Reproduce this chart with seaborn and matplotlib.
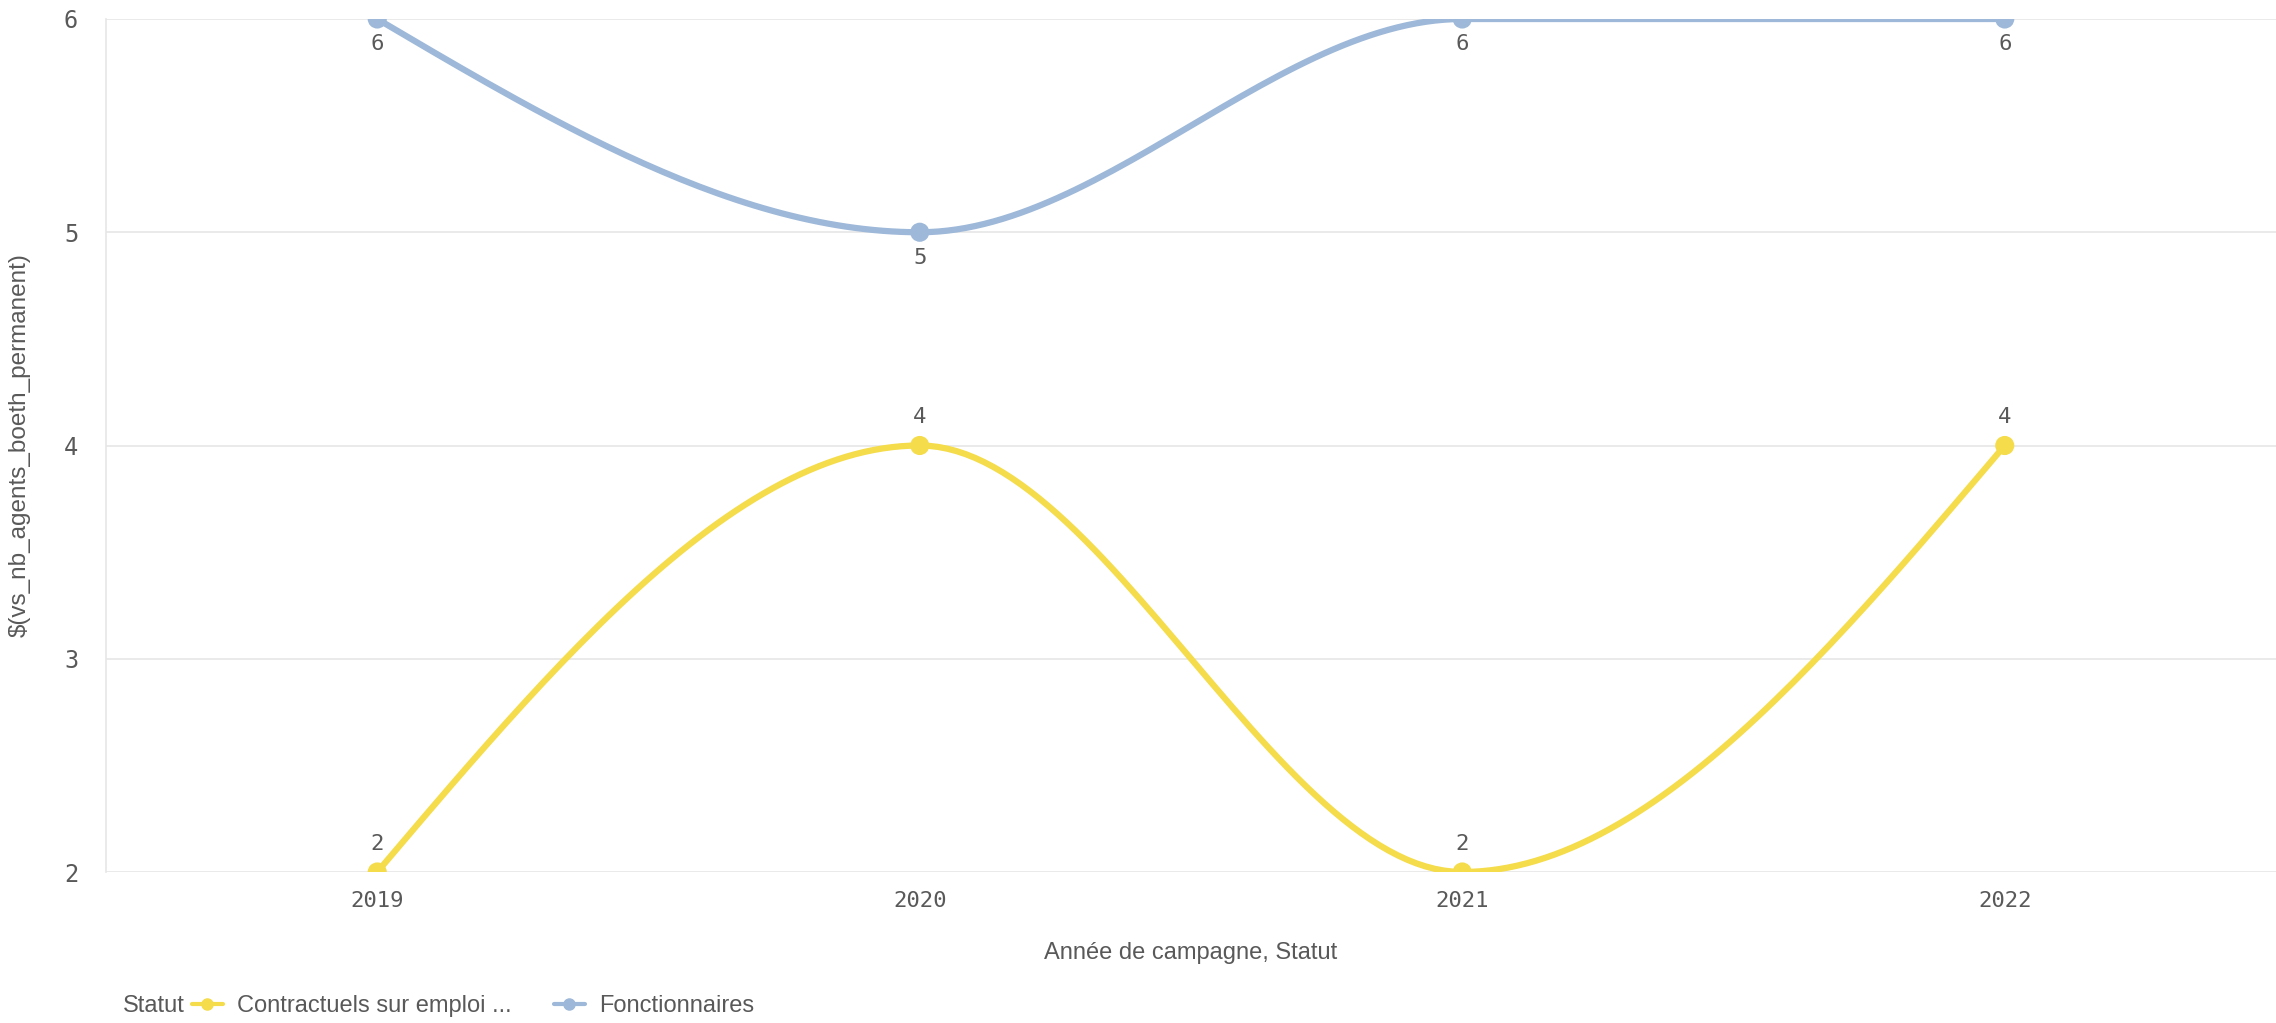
import numpy as np
import pandas as pd
import matplotlib
matplotlib.use("Agg")
import matplotlib.pyplot as plt
import seaborn as sns
from matplotlib.lines import Line2D

# ---- data ----
years = ["2019", "2020", "2021", "2022"]
contractuels = [2, 4, 2, 4]
fonctionnaires = [6, 5, 6, 6]
series_names = ["Contractuels sur emploi ...", "Fonctionnaires"]
y_ticks = [2, 3, 4, 5, 6]

YELLOW = "#F4DC4B"
BLUE = "#9DB8D8"
GRID = "#E6E6E6"
TXT = "#595959"


def monotone_curve(x, y, n=60):
    """d3 curveMonotoneX style smoothing (rendering only)."""
    x = np.asarray(x, float)
    y = np.asarray(y, float)
    h = np.diff(x)
    s = np.diff(y) / h
    t = np.zeros_like(y)
    for i in range(1, len(y) - 1):
        s0, s1 = s[i - 1], s[i]
        p = (s0 * h[i] + s1 * h[i - 1]) / (h[i - 1] + h[i])
        t[i] = (np.sign(s0) + np.sign(s1)) * min(abs(s0), abs(s1), 0.5 * abs(p))
    t[0] = (3 * s[0] - t[1]) / 2
    t[-1] = (3 * s[-1] - t[-2]) / 2
    xs, ys = [], []
    for i in range(len(h)):
        u = np.linspace(0, 1, n)
        h00 = 2 * u**3 - 3 * u**2 + 1
        h10 = u**3 - 2 * u**2 + u
        h01 = -2 * u**3 + 3 * u**2
        h11 = u**3 - u**2
        xs.append(x[i] + u * h[i])
        ys.append(h00 * y[i] + h10 * h[i] * t[i] + h01 * y[i + 1] + h11 * h[i] * t[i + 1])
    return np.concatenate(xs), np.concatenate(ys)


sns.set_theme(style="white")
plt.rcParams["font.family"] = ["DejaVu Sans"]
SANS = ["Liberation Sans Narrow", "Liberation Sans"]

fig = plt.figure(figsize=(22.76, 10.23), dpi=100)
ax = fig.add_axes([106 / 2276, 1 - 872 / 1023, 1 - 106 / 2276, (872 - 19) / 1023])

xpos = np.arange(len(years))
df = pd.DataFrame({
    "x": np.concatenate([xpos, xpos]),
    "val": contractuels + fonctionnaires,
    "Statut": [series_names[0]] * len(years) + [series_names[1]] * len(years),
})

for name, vals, col in [(series_names[0], contractuels, YELLOW), (series_names[1], fonctionnaires, BLUE)]:
    cx, cy = monotone_curve(xpos, vals)
    ax.plot(cx, cy, color=col, lw=4.5, solid_capstyle="round", zorder=3)

sns.scatterplot(data=df, x="x", y="val", hue="Statut", palette=[YELLOW, BLUE],
                s=190, edgecolor="none", legend=False, ax=ax, zorder=4)

# value labels
for i, v in enumerate(contractuels):
    ax.annotate(str(v), (i, v), xytext=(0, 13), textcoords="offset points",
                ha="center", va="bottom", fontsize=16, color=TXT,
                family="DejaVu Sans Mono", annotation_clip=False)
for i, v in enumerate(fonctionnaires):
    ax.annotate(str(v), (i, v), xytext=(0, -11), textcoords="offset points",
                ha="center", va="top", fontsize=16, color=TXT,
                family="DejaVu Sans Mono", annotation_clip=False)

ax.set_xlim(-0.5, len(years) - 0.5)
ax.set_ylim(2, 6)
ax.set_xticks(xpos)
ax.set_xticklabels(years, family="DejaVu Sans Mono", fontsize=16, color=TXT)
ax.set_yticks(y_ticks)
ax.set_yticklabels([str(v) for v in y_ticks], family="DejaVu Sans Mono", fontsize=17, color=TXT)
ax.tick_params(axis="y", length=12, width=1.2, color=GRID, pad=8)
ax.tick_params(axis="x", length=0, pad=14)
ax.grid(axis="y", color=GRID, lw=1.2)
ax.grid(axis="x", visible=False)
for sp in ["top", "right", "bottom"]:
    ax.spines[sp].set_visible(False)
ax.spines["left"].set_color(GRID)
ax.spines["left"].set_linewidth(1.2)

ax.set_xlabel("Année de campagne, Statut", fontsize=17, color=TXT, labelpad=22, family=SANS)
ax.set_ylabel("$(vs_nb_agents_boeth_permanent)", fontsize=17.5, color=TXT, family=SANS)
ax.yaxis.set_label_coords(-(106 - 31) / (2276 - 106), 0.5)

# legend
fig.text(123 / 2276, 1 - 1006 / 1023, "Statut", fontsize=17, color=TXT, va="center", ha="left",
         family=SANS)
handles = [Line2D([0], [0], color=YELLOW, lw=3, marker="o", ms=8),
           Line2D([0], [0], color=BLUE, lw=3, marker="o", ms=8)]
leg = fig.legend(handles, series_names, loc="center left",
                 bbox_to_anchor=(192 / 2276, 1 - 1006 / 1023), ncol=2, frameon=False,
                 handlelength=1.3, handletextpad=0.6, columnspacing=1.8,
                 borderpad=0, borderaxespad=0,
                 prop={"family": SANS, "size": 17})
for t in leg.get_texts():
    t.set_color(TXT)

fig.savefig("out.png", dpi=100, facecolor="white")
